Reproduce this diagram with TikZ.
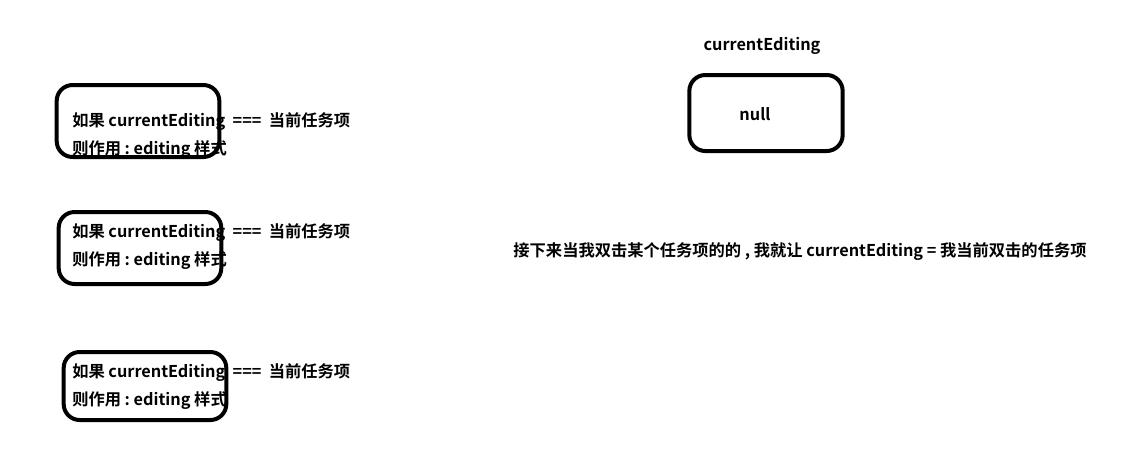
\documentclass[tikz,border=0pt]{standalone}
\usepackage{fontspec}
\newfontfamily\cjk{Noto Sans CJK SC Bold}
\begin{document}
\begin{tikzpicture}[
x=0.75pt, y=-0.75pt,
every node/.style={font=\cjk\fontsize{12.2}{14}\selectfont, inner sep=0pt},
loop/.style={draw, line width=3pt, rounded corners=12pt, minimum width=122pt, minimum height=54pt},
memo/.style={anchor=west, align=left}
]
\useasboundingbox (0,0) rectangle (1123,458);
% the three list items
\node[loop] (box1) at (138,121) {};
\node[memo] (item1) at (72,136) {如果 currentEditing \ === \ 当前任务项\\[7pt]则作用\ :\ editing 样式};
\node[loop] (box2) at (140,248) {};
\node[memo] (item2) at (72,247) {如果 currentEditing \ === \ 当前任务项\\[7pt]则作用\ :\ editing 样式};
\node[loop, minimum height=51pt] (box3) at (145,386) {};
\node[memo] (item3) at (72,387) {如果 currentEditing \ === \ 当前任务项\\[7pt]则作用\ :\ editing 样式};
% the state
\node (label) at (762,46) {currentEditing};
\node[loop, minimum width=115pt, minimum height=57pt] (state) at (766,113) {};
\node (value) at (755,114) {null};
\node (note) at (800,252) {接下来当我双击某个任务项的的\ ,\ 我就让 currentEditing = 我当前双击的任务项};
\end{tikzpicture}
\end{document}
